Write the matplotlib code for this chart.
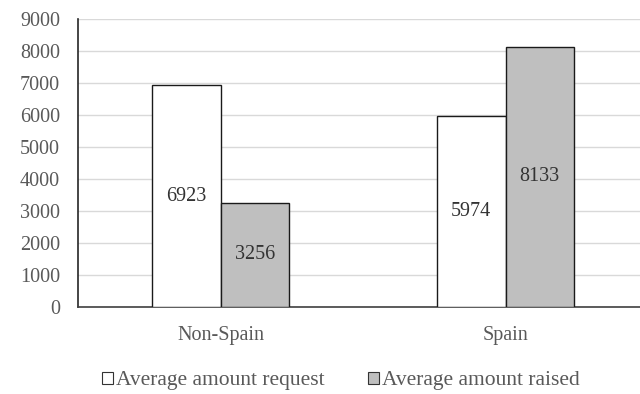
import matplotlib.pyplot as plt
import numpy as np
from matplotlib.patches import Patch

plt.rcParams["font.family"] = ["Liberation Serif", "DejaVu Serif"]

categories = ["Non-Spain", "Spain"]
requested = [6923, 5974]
raised = [3256, 8133]
series_names = ["Average amount request", "Average amount raised"]

fig = plt.figure(figsize=(6.4, 3.94), dpi=100)
ax = fig.add_axes([78 / 640, 1 - 307 / 394, 570 / 640, 288 / 394])

x = np.arange(len(categories))
w = 0.24
b1 = ax.bar(x - w / 2, requested, w, color="white", edgecolor="#1a1a1a", linewidth=1.0, zorder=3)
b2 = ax.bar(x + w / 2, raised, w, color="#bfbfbf", edgecolor="#1a1a1a", linewidth=1.0, zorder=3)

for bars in (b1, b2):
    for rect in bars:
        h = rect.get_height()
        ax.text(rect.get_x() + rect.get_width() / 2, h / 2, f"{int(h)}",
                ha="center", va="center", fontsize=14.5, color="#333333", zorder=4)

ax.set_xlim(-0.5, 1.5)
ax.set_ylim(0, 9000)
ax.set_yticks(np.arange(0, 9001, 1000))
ax.set_xticks(x)
ax.set_xticklabels(categories)
ax.yaxis.grid(True, color="#d9d9d9", linewidth=1.0, zorder=0)
ax.tick_params(axis="both", length=0, labelsize=14.5, colors="#595959")
ax.tick_params(axis="y", pad=13)
ax.tick_params(axis="x", pad=14)
for s in ["top", "right"]:
    ax.spines[s].set_visible(False)
ax.spines["left"].set_color("#262626")
ax.spines["bottom"].set_color("#404040")
ax.spines["left"].set_linewidth(1.2)
ax.spines["bottom"].set_linewidth(1.2)

handles = [Patch(facecolor="white", edgecolor="#333333", linewidth=0.8),
           Patch(facecolor="#bfbfbf", edgecolor="#333333", linewidth=0.8)]
fig.legend(handles, series_names, loc="center", bbox_to_anchor=(341 / 640, 1 - 381 / 394),
           ncol=2, frameon=False, fontsize=15.5, handlelength=0.5, handleheight=0.5,
           handletextpad=0.15, columnspacing=2.0, labelcolor="#595959")

plt.savefig("out.png", dpi=100)
